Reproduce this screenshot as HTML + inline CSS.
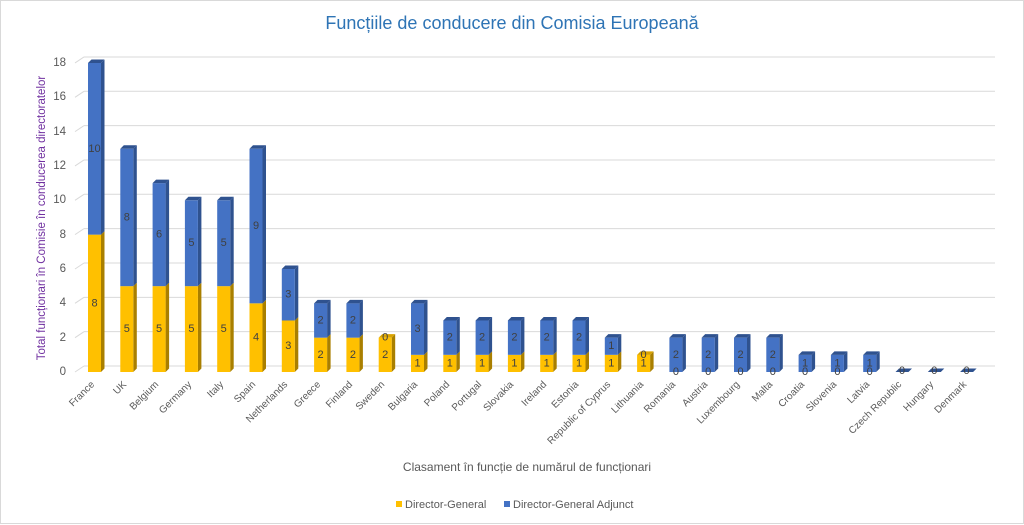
<!DOCTYPE html>
<html><head><meta charset="utf-8"><style>
html,body{margin:0;padding:0;background:#fff}
svg{display:block;font-family:"Liberation Sans",sans-serif}
</style></head><body>
<svg id="s" width="1024" height="525" viewBox="0 0 1024 525">
<rect x="0.5" y="0.5" width="1023" height="523" fill="#fff" stroke="#d9d9d9"/>
<text x="512" y="29" text-anchor="middle" font-size="18" fill="#2E74B5">Funcțiile de conducere din Comisia Europeană</text>
<text transform="translate(45,218) rotate(-90)" text-anchor="middle" font-size="11.5" fill="#7030A0">Total funcționari în Comisie în conducerea directoratelor</text>
<g id="grid"></g>
<g font-size="11.5" fill="#595959" text-anchor="end" dominant-baseline="central">
<text x="66" y="372">0</text><text x="66" y="338">2</text><text x="66" y="303">4</text><text x="66" y="269">6</text><text x="66" y="235">8</text><text x="66" y="200">10</text><text x="66" y="166">12</text><text x="66" y="132">14</text><text x="66" y="97">16</text><text x="66" y="63">18</text>
</g>
<g id="bars"></g>
<g font-size="11" fill="#404040" text-anchor="middle" dominant-baseline="central">
<text x="94.5" y="303.3">8</text><text x="94.5" y="148.8">10</text>
<text x="126.8" y="329.1">5</text><text x="126.8" y="217.5">8</text>
<text x="159.1" y="329.1">5</text><text x="159.1" y="234.6">6</text>
<text x="191.4" y="329.1">5</text><text x="191.4" y="243.2">5</text>
<text x="223.7" y="329.1">5</text><text x="223.7" y="243.2">5</text>
<text x="256" y="337.7">4</text><text x="256" y="226.1">9</text>
<text x="288.3" y="346.2">3</text><text x="288.3" y="294.7">3</text>
<text x="320.6" y="354.8">2</text><text x="320.6" y="320.5">2</text>
<text x="352.9" y="354.8">2</text><text x="352.9" y="320.5">2</text>
<text x="385.2" y="354.8">2</text><text x="385.2" y="337.7">0</text>
<text x="417.5" y="363.4">1</text><text x="417.5" y="329.1">3</text>
<text x="449.8" y="363.4">1</text><text x="449.8" y="337.7">2</text>
<text x="482.1" y="363.4">1</text><text x="482.1" y="337.7">2</text>
<text x="514.4" y="363.4">1</text><text x="514.4" y="337.7">2</text>
<text x="546.7" y="363.4">1</text><text x="546.7" y="337.7">2</text>
<text x="579" y="363.4">1</text><text x="579" y="337.7">2</text>
<text x="611.3" y="363.4">1</text><text x="611.3" y="346.2">1</text>
<text x="643.6" y="363.4">1</text><text x="643.6" y="354.8">0</text>
<text x="675.9" y="372">0</text><text x="675.9" y="354.8">2</text>
<text x="708.2" y="372">0</text><text x="708.2" y="354.8">2</text>
<text x="740.5" y="372">0</text><text x="740.5" y="354.8">2</text>
<text x="772.8" y="372">0</text><text x="772.8" y="354.8">2</text>
<text x="805.1" y="372">0</text><text x="805.1" y="363.4">1</text>
<text x="837.4" y="372">0</text><text x="837.4" y="363.4">1</text>
<text x="869.7" y="372">0</text><text x="869.7" y="363.4">1</text>
<text x="902" y="371">0</text><text x="934.3" y="371">0</text><text x="966.6" y="371">0</text>
</g>
<g font-size="10" fill="#595959" text-anchor="end">
<text transform="translate(95,385) rotate(-45)">France</text>
<text transform="translate(127,385) rotate(-45)">UK</text>
<text transform="translate(159,385) rotate(-45)">Belgium</text>
<text transform="translate(192,385) rotate(-45)">Germany</text>
<text transform="translate(224,385) rotate(-45)">Italy</text>
<text transform="translate(256,385) rotate(-45)">Spain</text>
<text transform="translate(288,385) rotate(-45)">Netherlands</text>
<text transform="translate(321,385) rotate(-45)">Greece</text>
<text transform="translate(353,385) rotate(-45)">Finland</text>
<text transform="translate(385,385) rotate(-45)">Sweden</text>
<text transform="translate(418,385) rotate(-45)">Bulgaria</text>
<text transform="translate(450,385) rotate(-45)">Poland</text>
<text transform="translate(482,385) rotate(-45)">Portugal</text>
<text transform="translate(514,385) rotate(-45)">Slovakia</text>
<text transform="translate(547,385) rotate(-45)">Ireland</text>
<text transform="translate(579,385) rotate(-45)">Estonia</text>
<text transform="translate(611,385) rotate(-45)">Republic of Cyprus</text>
<text transform="translate(644,385) rotate(-45)">Lithuania</text>
<text transform="translate(676,385) rotate(-45)">Romania</text>
<text transform="translate(708,385) rotate(-45)">Austria</text>
<text transform="translate(740,385) rotate(-45)">Luxembourg</text>
<text transform="translate(773,385) rotate(-45)">Malta</text>
<text transform="translate(805,385) rotate(-45)">Croatia</text>
<text transform="translate(837,385) rotate(-45)">Slovenia</text>
<text transform="translate(870,385) rotate(-45)">Latvia</text>
<text transform="translate(902,385) rotate(-45)">Czech Republic</text>
<text transform="translate(934,385) rotate(-45)">Hungary</text>
<text transform="translate(967,385) rotate(-45)">Denmark</text>
</g>
<text x="527" y="471" text-anchor="middle" font-size="12" fill="#595959">Clasament în funcție de numărul de funcționari</text>
<rect x="396" y="501" width="6" height="6" fill="#FFC000"/>
<text x="405" y="508" font-size="11" fill="#595959">Director-General</text>
<rect x="504" y="501" width="6" height="6" fill="#4472C4"/>
<text x="513" y="508" font-size="11" fill="#595959">Director-General Adjunct</text>
</svg>
<script>
var NS="http://www.w3.org/2000/svg",u=17.17,z=372,d=3.5,w=13;
function el(p,t,a){var e=document.createElementNS(NS,t);for(var k in a)e.setAttribute(k,a[k]);p.appendChild(e);return e;}
var g=document.getElementById("grid");
for(var v=0;v<=18;v+=2){var y=z-u*v;el(g,"line",{x1:75,y1:y,x2:84,y2:y-6,stroke:"#d9d9d9"});el(g,"line",{x1:84,y1:y-6,x2:995,y2:y-6,stroke:"#d9d9d9"});}
var dg=[8,5,5,5,5,4,3,2,2,2,1,1,1,1,1,1,1,1,0,0,0,0,0,0,0,0,0,0];
var da=[10,8,6,5,5,9,3,2,2,0,3,2,2,2,2,2,1,0,2,2,2,2,1,1,1,0,0,0];
var b=document.getElementById("bars");
function seg(x,y0,y1,f,s,t,top){
 el(b,"polygon",{points:[x+w,y1,x+w+d,y1-d,x+w+d,y0-d,x+w,y0].join(" "),fill:s});
 el(b,"rect",{x:x,y:y1,width:w,height:y0-y1,fill:f});
 if(top)el(b,"polygon",{points:[x,y1,x+d,y1-d,x+w+d,y1-d,x+w,y1].join(" "),fill:t});
}
for(var i=0;i<28;i++){
 var x=88+32.3*i,y1=z-u*dg[i],y2=y1-u*da[i];
 if(dg[i])seg(x,z,y1,"#FFC000","#A97F00","#D9A300",da[i]==0);
 if(da[i])seg(x,y1,y2,"#4472C4","#2F528F","#2F528F",true);
 if(!dg[i]&&!da[i])el(b,"polygon",{points:[x,z,x+d,z-d,x+w+d,z-d,x+w,z].join(" "),fill:"#2F528F"});
}
</script>
</body></html>
